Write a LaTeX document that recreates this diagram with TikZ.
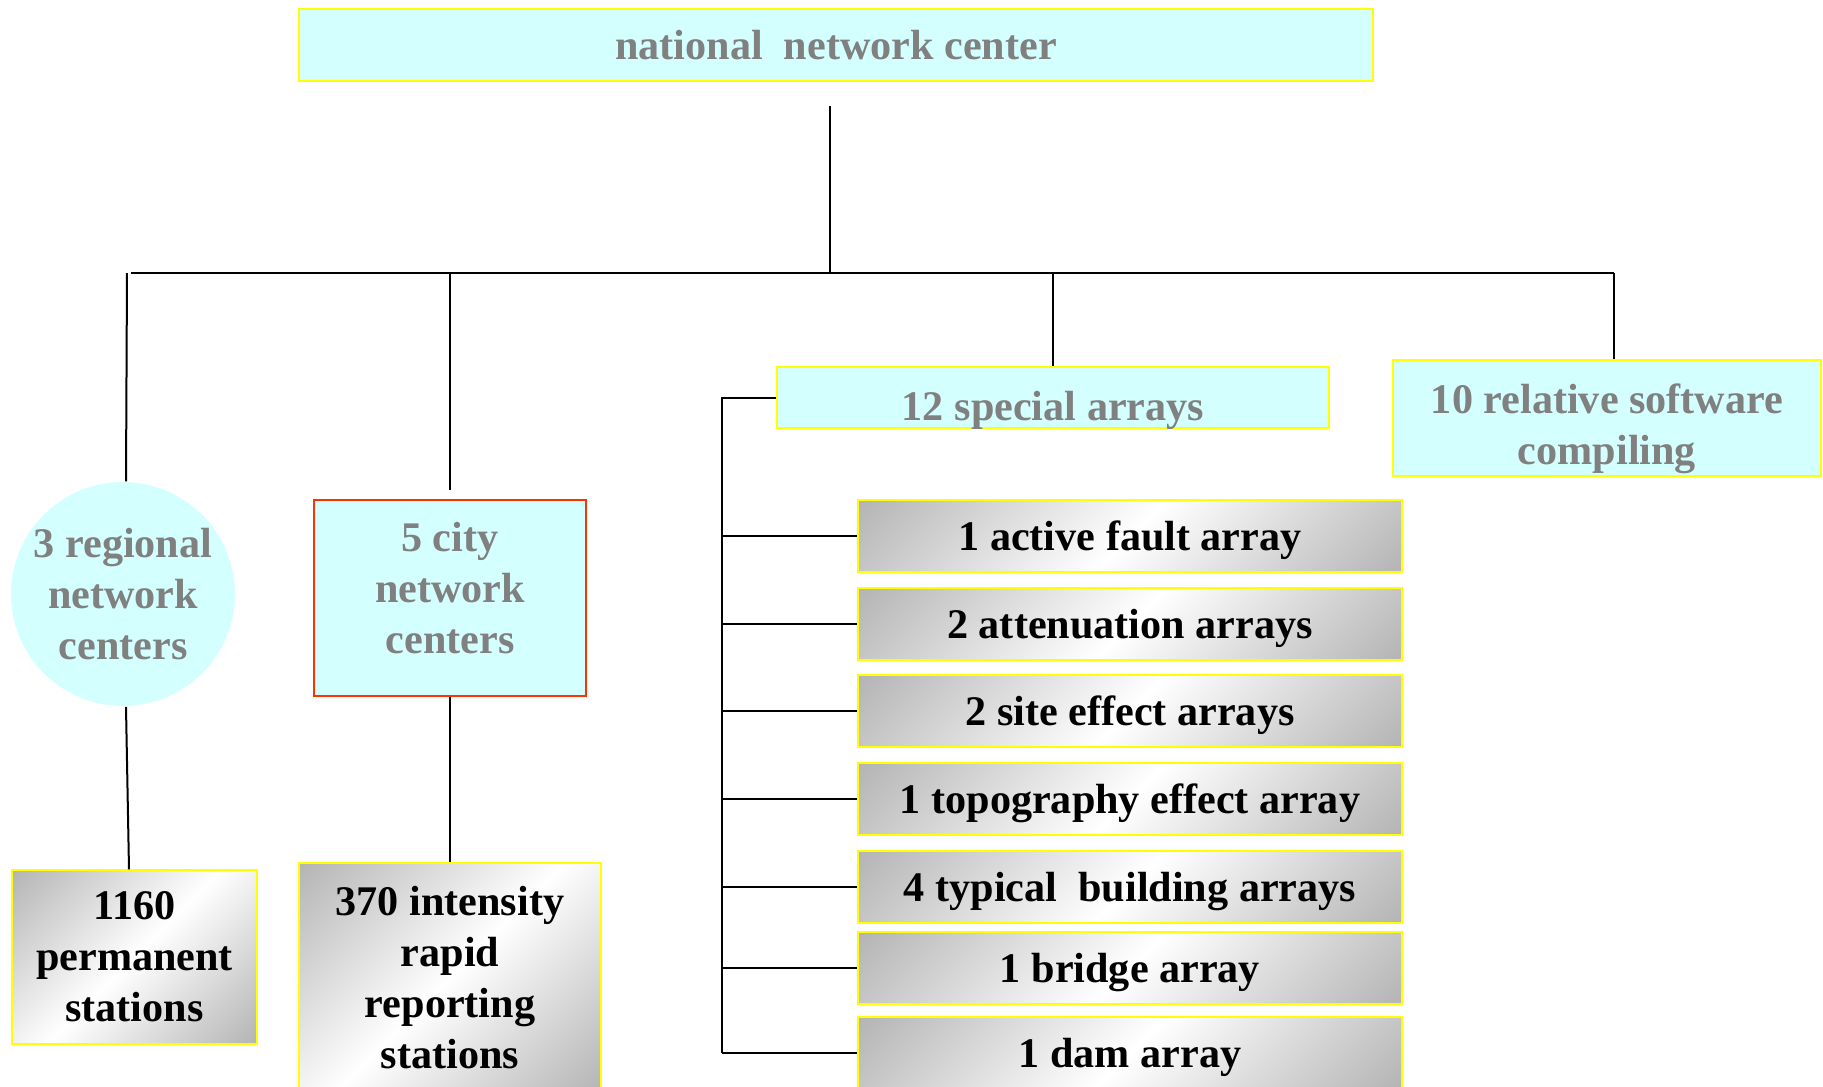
\documentclass[tikz,border=0pt]{standalone}
\usepackage{fontspec}
\setmainfont{Liberation Serif}
\usetikzlibrary{positioning}

\definecolor{lightcyan}{HTML}{D4FFFF}
\definecolor{boxyellow}{HTML}{FFFF00}
\definecolor{boxred}{HTML}{FF3300}
\definecolor{textgray}{HTML}{808080}
\definecolor{sheengray}{HTML}{959595}

\pgfdeclareverticalshading{sheen}{100bp}{color(0bp)=(sheengray); color(50bp)=(white); color(100bp)=(sheengray)}

\tikzset{
  bigfont/.style={font=\bfseries\fontsize{24}{29}\selectfont, align=center, inner sep=0pt},
  cyanbox/.style={bigfont, draw=boxyellow, line width=0.3mm, fill=lightcyan, text=textgray},
  graytext/.style={bigfont, text=textgray},
  graybox/.style={bigfont, draw=boxyellow, line width=0.3mm, shading=sheen, shading angle=45},
  link/.style={line width=0.4mm}
}

\begin{document}
\begin{tikzpicture}[x=0.2mm, y=-0.2mm]
    % Rahmen
    \useasboundingbox (0,0) rectangle (1823,1086);
    \fill[white] (0,0) rectangle (1823,1086);
    \clip (0,0) rectangle (1823,1086);

    % oberste Ebene
    \node[cyanbox, minimum width=214.8mm, minimum height=14.4mm] (nat) at (836,45) {national~ network center};

    % zweite Ebene
    \node[cyanbox, draw=none, circle, minimum size=44.8mm] (reg) at (123,594) {3 regional\\network\\centers};
    \node[cyanbox, draw=boxred, minimum width=54.4mm, minimum height=39.2mm] (city) at (450,598) {};
    \node[graytext] (city text) at ([yshift=1.9mm]city.center) {5 city\\network\\centers};
    \node[cyanbox, minimum width=110.4mm, minimum height=12.2mm] (spec) at (1053,397.5) {};
    \node[graytext] (spec text) at ([yshift=-2.5mm]spec.center) {12 special arrays};
    \node[cyanbox, minimum width=85.6mm, minimum height=23.2mm] (soft) at (1607,418) {};
    \node[graytext] (soft text) at ([yshift=-2.1mm]soft.center) {10 relative software\\compiling};

    % Stationen
    \node[graybox, minimum width=49mm, minimum height=34.8mm] (perm) at (134.5,957) {1160\\permanent\\stations};
    \node[graybox, minimum width=60.4mm, minimum height=46mm] (intens) at (450,978) {370 intensity\\rapid\\reporting\\stations};

    % Arrays
    \foreach \i/\y/\txt in {1/536/1 active fault array, 2/624/2 attenuation arrays,
        3/711/2 site effect arrays, 4/799/1 topography effect array,
        5/887/4 typical~ building arrays, 6/968/1 bridge array, 7/1053/1 dam array}
    {
        \node[graybox, minimum width=108.8mm, minimum height=14.4mm] (a\i) at (1130,\y) {};
        \node[bigfont] (a\i text) at ([yshift=-0.9mm]a\i.center) {\txt};
    }

    % Verbindungen
    \coordinate (bus) at (0,273);
    \coordinate (spine) at (722,0);
    \draw[link] ([xshift=-1.2mm, yshift=-4.8mm]nat.south) -- ([xshift=-1.2mm]nat.south |- bus);
    \draw[link] ([xshift=1.6mm]reg.north |- bus) -- ([xshift=1.4mm]soft.north |- bus);
    \draw[link] ([xshift=0.8mm]reg.north |- bus) -- ([xshift=0.6mm]reg.north);
    \draw[link] (spec.north |- bus) -- (spec.north);
    \draw[link] ([xshift=1.4mm]soft.north |- bus) -- ([xshift=1.4mm]soft.north);
    \draw[link, shorten >=1.8mm] (city.north |- bus) -- (city.north);
    \draw[link] ([xshift=0.6mm]reg.south) -- ([xshift=1.2mm]reg.south |- perm.north);
    \draw[link] (city.south) -- (intens.north);
    \draw[link] (spec.west) -- (spec.west -| spine) -- (a7.west -| spine);
    \foreach \i in {1,...,7}
        \draw[link] (a\i.west -| spine) -- (a\i.west);
\end{tikzpicture}
\end{document}
